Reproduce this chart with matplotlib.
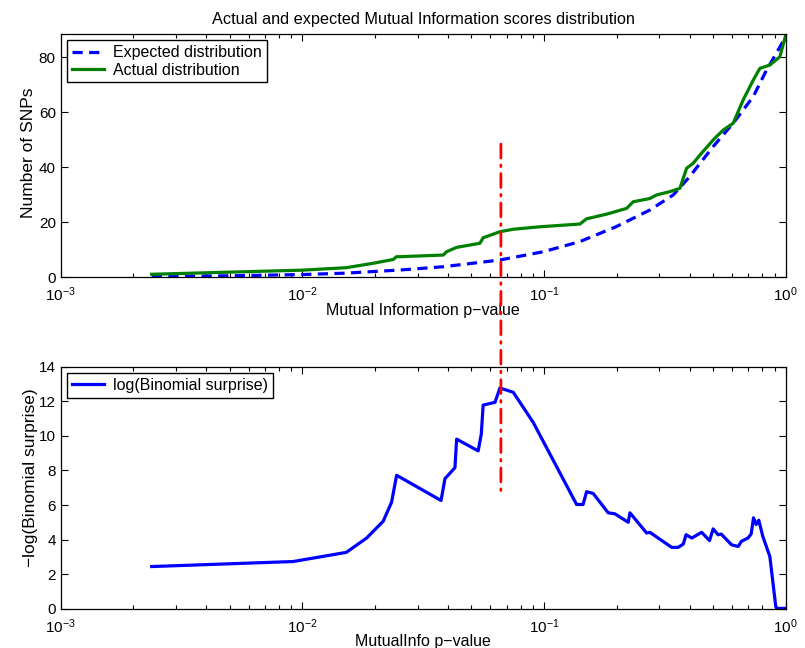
import matplotlib
matplotlib.use('Agg')
import matplotlib.pyplot as plt
from matplotlib.patches import ConnectionPatch

plt.rcParams['font.family'] = ['Liberation Sans', 'DejaVu Sans']
plt.rcParams['mathtext.fontset'] = 'custom'
plt.rcParams['mathtext.rm'] = 'Liberation Sans'
plt.rcParams['font.size'] = 11

# expected cumulative count (dashed blue)
exp_p = [0.00238, 0.005, 0.01, 0.015, 0.02535, 0.0383, 0.0657, 0.0992, 0.1408,
         0.1985, 0.2742, 0.3426, 0.4001, 0.501, 0.6063, 0.734, 0.827, 1.0]
exp_n = [0.2, 0.45, 0.9, 1.4, 2.55, 3.75, 6.2, 9.2, 12.9,
         18.3, 24.4, 29.9, 36.5, 47.5, 56.0, 65.7, 74.8, 87.5]

# actual cumulative count (green)
act_p = [0.00238, 0.01, 0.0152, 0.0196, 0.0238, 0.0245, 0.02535, 0.0383, 0.0395,
         0.0435, 0.0543, 0.056, 0.0657, 0.0746, 0.0962, 0.1408, 0.150, 0.1816,
         0.2197, 0.2339, 0.2742, 0.2924, 0.3319, 0.365, 0.389, 0.414, 0.4416,
         0.501, 0.551, 0.6063, 0.667, 0.734, 0.782, 0.86, 0.946, 1.0]
act_n = [1.0, 2.5, 3.4, 5.0, 6.4, 7.4, 7.4, 8.0, 9.2,
         10.8, 12.3, 14.3, 16.5, 17.4, 18.3, 19.3, 21.2, 22.9,
         25.0, 27.4, 28.6, 29.9, 31.1, 32.3, 39.6, 41.4, 44.4,
         49.9, 53.5, 56.0, 64.5, 71.7, 76.0, 77.2, 80.2, 88.0]

# -log(binomial surprise)
sur_p = [0.00238, 0.00916, 0.0152, 0.01845, 0.0216, 0.0234, 0.02455, 0.0375, 0.0389,
         0.0428, 0.0435, 0.0534, 0.055, 0.056, 0.0627, 0.0657, 0.0746, 0.0902,
         0.1364, 0.1451, 0.150, 0.1597, 0.1843, 0.1964, 0.2231, 0.2267, 0.2658,
         0.2742, 0.3373, 0.359, 0.377, 0.387, 0.409, 0.449, 0.484, 0.501, 0.525,
         0.541, 0.597, 0.636, 0.656, 0.698, 0.72, 0.736, 0.755, 0.774, 0.804,
         0.86, 0.91, 0.924, 1.0]
sur_v = [2.44, 2.73, 3.26, 4.09, 5.06, 6.16, 7.72, 6.26, 7.52,
         8.16, 9.81, 9.13, 10.1, 11.78, 11.94, 12.77, 12.52, 10.78,
         6.03, 6.03, 6.77, 6.67, 5.55, 5.49, 5.0, 5.55, 4.38,
         4.42, 3.55, 3.55, 3.74, 4.28, 4.09, 4.42, 3.94, 4.62, 4.28,
         4.32, 3.70, 3.60, 3.90, 4.09, 4.33, 5.26, 4.87, 5.12, 4.19,
         3.02, 0.12, 0.02, 0.02]

cutoff = 0.0663

fig = plt.figure(figsize=(8.05, 6.48), dpi=100)
ax1 = fig.add_axes([0.0754, 0.5725, 0.9006, 0.375])
ax2 = fig.add_axes([0.0754, 0.0606, 0.9006, 0.3735])

def style(ax):
    ax.set_xscale('log')
    ax.set_xlim(1e-3, 1)
    ax.tick_params(which='both', direction='in', top=True, right=True)
    ax.tick_params(which='major', length=5, width=0.8, labelsize=11)
    ax.tick_params(which='minor', length=3, width=0.8)
    ax.tick_params(axis='x', which='major', pad=6)
    for s in ax.spines.values():
        s.set_linewidth(0.9)

ax1.plot(exp_p, exp_n, '--', color=(0, 0, 1), lw=2.3, dashes=(3.2, 2),
         label='Expected distribution')
ax1.plot(act_p, act_n, '-', color=(0, 0.5, 0), lw=2.3, label='Actual distribution')
style(ax1)
ax1.set_ylim(0, 88.5)
ax1.set_yticks([0, 20, 40, 60, 80])
ax1.set_title('Actual and expected Mutual Information scores distribution',
              fontsize=11.7, pad=7)
ax1.set_xlabel('Mutual Information p\u2212value', fontsize=11.5, labelpad=-1)
ax1.set_ylabel('Number of SNPs', fontsize=12.5)
ax1.yaxis.set_label_coords(-0.034, 0.51)
ax1.legend(loc='upper left', fancybox=False, edgecolor='black', framealpha=1,
           fontsize=11.5, handlelength=2.0, borderaxespad=0.4,
           labelspacing=0.15, borderpad=0.3, handletextpad=0.6)

ax2.plot(sur_p, sur_v, '-', color=(0, 0, 1), lw=2.3, label='log(Binomial surprise)')
style(ax2)
ax2.set_ylim(0, 14)
ax2.set_yticks(range(0, 15, 2))
ax2.set_xlabel('MutualInfo p\u2212value', fontsize=11.5, labelpad=-1)
ax2.set_ylabel('\u2212log(Binomial surprise)', fontsize=12.5)
ax2.yaxis.set_label_coords(-0.031, 0.542)
ax2.legend(loc='upper left', fancybox=False, edgecolor='black', framealpha=1,
           fontsize=11.5, handlelength=2.0, borderaxespad=0.4, borderpad=0.3,
           handletextpad=0.6)

# cutoff line spanning both panels
con = ConnectionPatch(xyA=(cutoff, 48.4), coordsA='data', axesA=ax1,
                      xyB=(cutoff, 6.8), coordsB='data', axesB=ax2,
                      color='red', lw=2, linestyle=(0, (5, 2.5, 0.6, 2.5)))
fig.add_artist(con)

fig.savefig('out.png', dpi=100)
